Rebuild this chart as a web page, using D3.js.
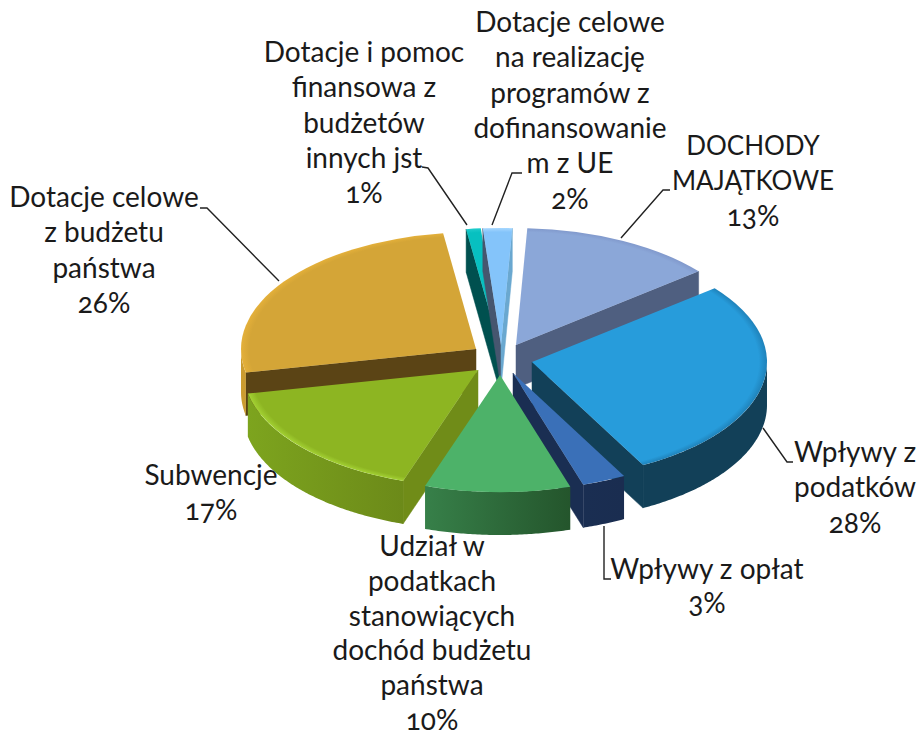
<!DOCTYPE html>
<html><head><meta charset="utf-8">
<script src="https://cdn.jsdelivr.net/npm/d3@7/dist/d3.min.js"></script>
<style>
html,body{margin:0;padding:0;background:#fff}
text{font-family:"Lato","Open Sans",sans-serif;font-size:28px;fill:#1a1a1a;text-anchor:middle;font-feature-settings:"onum"}
</style></head><body>
<svg id="c" width="921" height="736" style="display:block"></svg>
<script>
const categories = [
 ["Wpływy z","podatków"],
 ["Wpływy z opłat"],
 ["Udział w","podatkach","stanowiących","dochód budżetu","państwa"],
 ["Subwencje"],
 ["Dotacje celowe","z budżetu","państwa"],
 ["Dotacje i pomoc","finansowa z","budżetów","innych jst"],
 ["Dotacje celowe","na realizację","programów z","dofinansowanie","m z UE"],
 ["DOCHODY","MAJĄTKOWE"]
];
const values = [28,3,10,16.6,26,1,2,13.4];

// layout (not data)
const apexX = [532,513,500,478,476,499,501,516];
const apexY = [362,373,375,370,349,345,345,345];
const labelX = [855,707,432,211,104,364,570,753];
const labelY = [462,579,556,485,207,62,32,155];
const lineGap = [35.3,34,34.8,35,35.3,35.3,35.3,35.3];
const leaders = [
 [[793,462],[787,462],[763,428]],
 [[611,579],[604,579],[604,526]],
 null,
 null,
 [[200,208],[207,208],[279,281]],
 [[422,167],[428,168],[467,225]],
 [[522,173],[512,173],[492,225]],
 [[670,190],[663,190],[621,238]]
];
const topColor  = ["#279CDB","#3A70B8","#4DB269","#8DB522","#D4A537","#07C0C0","#84C4FA","#8BA7D8"];
const rimColor  = ["#1F82BA","#3A70B8","#4DB269","#A4D234","#E4B03A","#20CCCC","#A8D8FF","#8199CC"];
const wallLeft  = ["#124058","#1A2E52","#378049","#7DA41E","#CB9C30","#00504F","#4A5C7A","#4F5F80"];
const wallRight = ["#124058","#1A2D50","#24552C","#6C8A19","#B88C28","#00504F","#4A5C7A","#4F5F80"];
const cutStart  = ["#124058","#1A2E52","#24552C","#708C18","#5B4415","#00504F","#46566F","#4F5F80"];
const cutEnd    = ["#124058","#1A2E52","#378049","#708C18","#5B4415","#00504F","#6AA8D0","#4F5F80"];
const drawOrder = [7,4,5,6,0,3,1,2];

const RX = 235, RY = 117, DEPTH = 43, K = RY / RX, START = 51 * Math.PI / 180;

const svg = d3.select("#c");
const defs = svg.append("defs");
const arcs = d3.pie().sort(null).value(d => d).startAngle(START).endAngle(START + 2 * Math.PI)(values);
const arcGen = d3.arc().innerRadius(0).outerRadius(RX);
const px = (i,a) => apexX[i] + RX * Math.sin(a);
const py = (i,a) => apexY[i] - RY * Math.cos(a);
const wall = d3.area().x(d => d.x).y0(d => d.y).y1(d => d.y + DEPTH);
const poly = d3.line().x(d => d[0]).y(d => d[1]);
const sweep = d => d3.range(d.startAngle, d.endAngle, 0.01).concat([d.endAngle]);

arcs.forEach((d,i) => {
  const g = defs.append("radialGradient").attr("id","top"+i).attr("gradientUnits","userSpaceOnUse")
    .attr("cx",0).attr("cy",0).attr("r",RX);
  [[0,topColor[i]],[0.965,topColor[i]],[1,rimColor[i]]].forEach(s => g.append("stop").attr("offset",s[0]).attr("stop-color",s[1]));
  const xs = sweep(d).map(a => px(i,a));
  const w = defs.append("linearGradient").attr("id","wall"+i).attr("gradientUnits","userSpaceOnUse")
    .attr("x1",d3.min(xs)).attr("x2",d3.max(xs)).attr("y1",0).attr("y2",0);
  w.append("stop").attr("offset",0).attr("stop-color",wallLeft[i]);
  w.append("stop").attr("offset",1).attr("stop-color",wallRight[i]);
});

drawOrder.forEach(i => {
  const d = arcs[i];
  const g = svg.append("g");
  const cut = (a,col) => {
    const x = px(i,a), y = py(i,a), ax = apexX[i], ay = apexY[i];
    g.append("path").attr("fill",col).attr("stroke",col).attr("stroke-width",0.5)
     .attr("d", poly([[ax,ay],[x,y],[x,y+DEPTH],[ax,ay+DEPTH]]) + "Z");
  };
  if (Math.sin(d.startAngle) < 0) cut(d.startAngle, cutStart[i]);
  if (Math.sin(d.endAngle) > 0) cut(d.endAngle, cutEnd[i]);
  const pts = sweep(d).filter(a => Math.cos(a) < 0).map(a => ({x:px(i,a), y:py(i,a)}));
  if (pts.length) g.append("path").attr("fill","url(#wall"+i+")").attr("d",wall(pts));
  g.append("path").attr("fill","url(#top"+i+")")
   .attr("transform",`translate(${apexX[i]},${apexY[i]}) scale(1,${K})`)
   .attr("d",arcGen(d));
});

leaders.forEach(l => {
  if (!l) return;
  svg.append("path").attr("fill","none").attr("stroke","#222").attr("stroke-width",1.4).attr("d",poly(l));
});

categories.forEach((lines,i) => {
  const t = svg.append("text").attr("x",labelX[i]).attr("y",labelY[i]);
  lines.concat([Math.round(values[i])+"%"]).forEach((s,j) => {
    t.append("tspan").attr("x",labelX[i]).attr("dy",j?lineGap[i]:0)
     .style("font-size", /^[A-ZĄ]+$/.test(s) ? "26px" : null).text(s);
  });
});
</script>
</body></html>
